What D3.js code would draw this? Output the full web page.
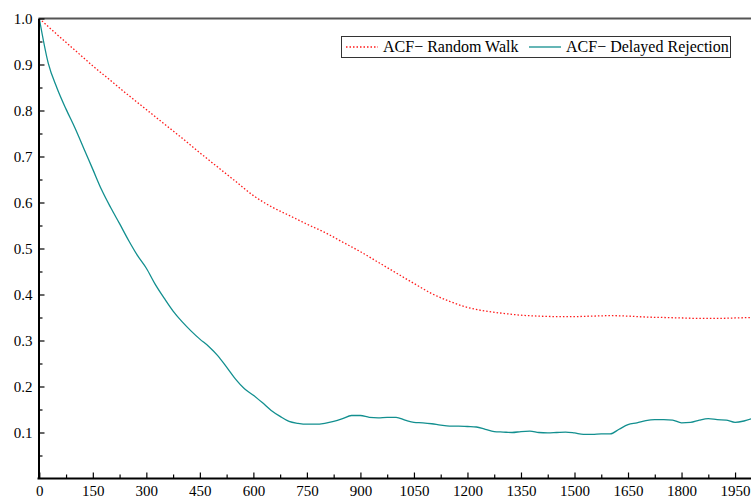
<!DOCTYPE html>
<html>
<head>
<meta charset="utf-8">
<script src="https://cdnjs.cloudflare.com/ajax/libs/d3/7.8.5/d3.min.js"></script>
<style>
  body { margin: 0; background: #fff; }
  svg { display: block; }
  .tick text { font-family: "Liberation Serif", "Times New Roman", serif; font-size: 15px; fill: #000; }
  .legend text { font-family: "Liberation Serif", "Times New Roman", serif; font-size: 16px; fill: #000; }
</style>
</head>
<body>
<svg id="chart"></svg>
<script>
// lags for the random walk curve (step 50)
let lagsRW = d3.range(0, 2001, 50);
let acfRW = [
  1.000, 0.965, 0.931, 0.897, 0.865, 0.833, 0.802, 0.771, 0.740, 0.708,
  0.677, 0.646, 0.615, 0.591, 0.572, 0.553, 0.535, 0.514, 0.493, 0.470,
  0.447, 0.424, 0.402, 0.385, 0.372, 0.364, 0.359, 0.355, 0.353, 0.352,
  0.352, 0.353, 0.354, 0.353, 0.351, 0.350, 0.349, 0.348, 0.348, 0.349,
  0.350
];

// lags for the delayed rejection curve (step 25)
let lagsDR = d3.range(0, 2001, 25);
let acfDR = [
  1.000, 0.903, 0.848, 0.803, 0.762, 0.717, 0.672, 0.627, 0.589, 0.554,
  0.518, 0.485, 0.457, 0.422, 0.392, 0.364, 0.341, 0.321, 0.303, 0.287,
  0.267, 0.242, 0.216, 0.195, 0.181, 0.165, 0.148, 0.135, 0.124, 0.120,
  0.118, 0.118, 0.120, 0.124, 0.130, 0.137, 0.137, 0.133, 0.132, 0.133,
  0.133, 0.127, 0.122, 0.121, 0.119, 0.116, 0.114, 0.114, 0.113, 0.112,
  0.107, 0.102, 0.101, 0.100, 0.102, 0.103, 0.100, 0.099, 0.100, 0.101,
  0.099, 0.096, 0.096, 0.097, 0.097, 0.107, 0.117, 0.121, 0.126, 0.128,
  0.128, 0.127, 0.121, 0.122, 0.127, 0.130, 0.128, 0.127, 0.122, 0.125,
  0.131
];

let xTicks = d3.range(0, 1951, 150);
let xMinor = d3.range(75, 2000, 150);
let yTicks = [0.1, 0.2, 0.3, 0.4, 0.5, 0.6, 0.7, 0.8, 0.9, 1.0];
let yMinor = [0.05, 0.15, 0.25, 0.35, 0.45, 0.55, 0.65, 0.75, 0.85, 0.95];
let seriesNames = ["ACF\u2212 Random Walk", "ACF\u2212 Delayed Rejection"];

function drawChart(width, height) {
    let svg = d3.select("#chart")
                .attr("width", width)
                .attr("height", height);

    let padding = { top: 18.5, bottom: 478.5, left: 38.5 };

    let xScale = d3.scaleLinear()
                    .domain([0, 2000])
                    .range([39.3, 752.9]);
    let yScale = d3.scaleLinear()
                    .domain([0, 1])
                    .range([padding.bottom, padding.top]);

    let plot = svg.append("g");
    plot.append("clipPath")
        .attr("id", "clip")
      .append("rect")
        .attr("x", padding.left)
        .attr("y", 0)
        .attr("width", width - padding.left)
        .attr("height", padding.bottom);

    let line = d3.line()
                 .x(d => xScale(d[0]))
                 .y(d => yScale(d[1]))
                 .curve(d3.curveMonotoneX);

    plot.append("path")
        .datum(d3.zip(lagsRW, acfRW))
        .attr("clip-path", "url(#clip)")
        .attr("fill", "none")
        .attr("stroke", "#ff1a1a")
        .attr("stroke-width", 1.3)
        .attr("stroke-dasharray", "1.5,2")
        .attr("d", line);

    plot.append("path")
        .datum(d3.zip(lagsDR, acfDR))
        .attr("clip-path", "url(#clip)")
        .attr("fill", "none")
        .attr("stroke", "#128f8f")
        .attr("stroke-width", 1.3)
        .attr("d", line);

    // top frame line
    svg.append("line")
        .attr("x1", padding.left)
        .attr("x2", width)
        .attr("y1", padding.top)
        .attr("y2", padding.top)
        .attr("stroke", "#555")
        .attr("stroke-width", 1.8);

    // minor ticks first, then the major axes on top
    svg.append("g")
        .attr("transform", "translate(0," + padding.bottom + ")")
        .call(d3.axisBottom(xScale).tickValues(xMinor).tickSizeInner(-4).tickSizeOuter(0).tickFormat(""))
        .call(g => g.select(".domain").remove());
    svg.append("g")
        .attr("transform", "translate(" + padding.left + ",0)")
        .call(d3.axisLeft(yScale).tickValues(yMinor).tickSizeInner(-4).tickSizeOuter(0).tickFormat(""))
        .call(g => g.select(".domain").remove());

    let xAxis = d3.axisBottom(xScale)
                  .tickValues(xTicks)
                  .tickSizeInner(-6)
                  .tickSizeOuter(0)
                  .tickPadding(7)
                  .tickFormat(d3.format("d"));
    svg.append("g")
        .classed("x-axis", true)
        .attr("transform", "translate(0," + padding.bottom + ")")
        .call(xAxis)
        .call(g => g.select(".domain").attr("d", "M" + (padding.left - 1) + ",0H" + width).attr("stroke-width", 2));

    let yAxis = d3.axisLeft(yScale)
                  .tickValues(yTicks)
                  .tickSizeInner(-6)
                  .tickSizeOuter(0)
                  .tickPadding(6)
                  .tickFormat(d3.format(".1f"));
    svg.append("g")
        .classed("y-axis", true)
        .attr("transform", "translate(" + padding.left + ",0)")
        .call(yAxis)
        .call(g => g.select(".domain").attr("stroke-width", 2));

    svg.selectAll(".tick line").attr("stroke", "#000").attr("stroke-width", 1.2);
    svg.selectAll(".x-axis .tick text").attr("dy", "0.71em");

    // legend
    let legend = svg.append("g").classed("legend", true);
    legend.append("rect")
        .attr("x", 341.5)
        .attr("y", 36.5)
        .attr("width", 389)
        .attr("height", 21)
        .attr("fill", "#fff")
        .attr("stroke", "#333")
        .attr("stroke-width", 1);

    let items = [
        { x: 346, name: seriesNames[0], color: "#ff1a1a", dash: "1.5,2" },
        { x: 529, name: seriesNames[1], color: "#128f8f", dash: null }
    ];
    let item = legend.selectAll(".item")
                     .data(items)
                     .enter()
                     .append("g")
                     .classed("item", true);
    item.append("line")
        .attr("x1", d => d.x)
        .attr("x2", d => d.x + 32)
        .attr("y1", 47)
        .attr("y2", 47)
        .attr("stroke", d => d.color)
        .attr("stroke-width", 1.3)
        .attr("stroke-dasharray", d => d.dash);
    item.append("text")
        .attr("x", d => d.x + 37)
        .attr("y", 52)
        .text(d => d.name);
}

drawChart(751, 502);
</script>
</body>
</html>
